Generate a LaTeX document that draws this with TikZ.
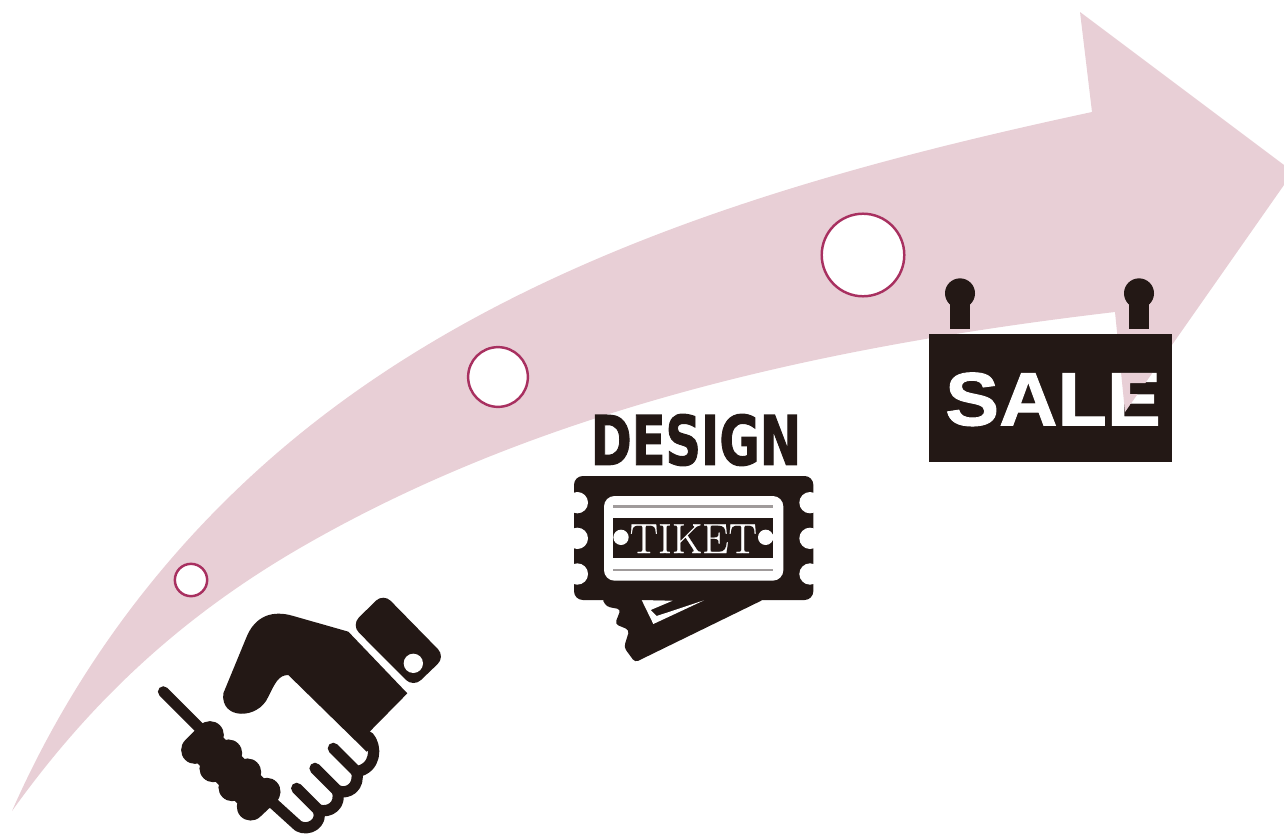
\documentclass[tikz,border=0pt]{standalone}
\usepackage{fontspec}
\usepackage{graphicx}
\usepackage{xcolor}
\definecolor{arrowpink}{RGB}{232,207,214}
\definecolor{ringred}{RGB}{168,48,96}
\definecolor{iconblack}{RGB}{35,24,21}
\definecolor{rulegray}{RGB}{160,155,155}
\newfontfamily\heavyfont[FakeBold=1.6]{DejaVu Sans Bold}
\newfontfamily\salefont[FakeBold=1.2]{Liberation Sans Bold}
\newfontfamily\tiketfont[FakeBold=0.5]{Latin Modern Roman}
\tikzset{
  ring/.style={circle, draw=ringred, fill=white, line width=1.4pt, inner sep=0pt},
  icon/.style={iconblack, line cap=round, line join=round},
  fingerline/.style={icon, line width=6.4pt}
}
\def\arrowpath{(12,811) .. controls (82,652) and (189,519) .. (320,418)
  .. controls (539,249) and (822,170) .. (1092,112) -- (1080,12) -- (1284,165) -- (1284,185) -- (1125,412) -- (1115,312)
  .. controls (834,345) and (545,406) .. (300,548)
  .. controls (188,613) and (95,695) .. (12,811) -- cycle}

\begin{document}
\begin{tikzpicture}[x=0.02cm,y=-0.02cm]
  \useasboundingbox (0,0) rectangle (1284,835);

  % fleche
  \fill[arrowpink] \arrowpath;

  % repères
  \node[ring,minimum size=18.4pt] (ringa) at (191,580) {};
  \node[ring,minimum size=34pt] (ringb) at (498,377) {};
  \node[ring,minimum size=47pt] (ringc) at (863,255) {};

  % poignée de main
  \begin{scope}[shift={(140,560)},scale=1/3]
    \fill[icon,rounded corners=6pt] (730,100) -- (916,290) -- (820,382) -- (634,195) -- cycle;
    \fill[white] (820,310) circle (29);
    \fill[icon] (250,400) -- (318,235) .. controls (345,165) and (400,150) .. (460,168)
      -- (625,215) -- (802,400) -- (682,522) -- (700,560) -- (680,575) -- (445,345) .. controls (415,345) and (405,370) .. (385,410)
      .. controls (355,480) and (240,480) .. (250,400) -- cycle;
    \draw[icon,line width=6.2pt] (70,395) -- (185,510);
    \draw[iconblack,line width=20.8pt] (187,547) -- (356,717);
    \foreach \xa/\ya/\xb/\yb in {210/525/165/570,265/580/220/625,322/637/277/682,380/695/332/740}
      \draw[icon,line width=15.8pt] (\xa,\ya) -- (\xb,\yb);
    \draw[fingerline] (685,530) .. controls (712,560) and (708,625) .. (650,635)
      .. controls (660,680) and (625,705) .. (592,692)
      .. controls (605,735) and (570,760) .. (535,750)
      .. controls (550,790) and (505,815) .. (475,798) -- (400,730);
    \draw[fingerline] (580,565) -- (650,635);
    \draw[fingerline] (525,625) -- (592,692);
    \draw[fingerline] (470,685) -- (535,750);
  \end{scope}

  % billet
  \begin{scope}[shift={(560,400)},scale=1/3]
    \node[text=iconblack,inner sep=0pt] (designlabel) at (408,120)
      {\scalebox{0.72}[1]{\fontsize{39}{39}\heavyfont DESIGN}};
    \fill[icon,rounded corners=2pt] (125,595) -- (140,620) -- (182,628) -- (165,672) -- (208,690) -- (192,742) -- (225,787) -- (612,598) -- cycle;
    \fill[white] (245,600) -- (280,672) -- (432,601) -- (290,648) -- (272,630) -- (338,602) -- cycle;
    \fill[icon,rounded corners=5pt] (42,228) rectangle (760,600);
    \foreach \yn in {308,415,522}{
      \fill[white] (52,\yn) circle (32);
      \fill[white] (750,\yn) circle (32);
    }
    \fill[white,rounded corners=6pt] (132,288) rectangle (670,542);
    \draw[rulegray,line width=1.6pt] (160,320) -- (640,320);
    \draw[rulegray,line width=1.6pt] (160,510) -- (640,510);
    \fill[iconblack] (160,353) rectangle (640,475);
    \fill[white] (183,412) circle (23);
    \fill[white] (617,412) circle (23);
    \node[text=white,inner sep=0pt] (tiketlabel) at (400,416) {\fontsize{24}{24}\tiketfont TIKET};
  \end{scope}

  % panneau
  \begin{scope}[shift={(915,270)},scale=1/3]
    \foreach \xk in {135,672}{
      \fill[icon] (\xk,70) circle (45);
      \fill[iconblack] (\xk-29,90) rectangle (\xk+29,178);
    }
    \fill[iconblack] (42,192) rectangle (770,575);
    \node[text=white,inner sep=0pt] (salelabel) at (414,388)
      {\scalebox{1.07}[1]{\fontsize{43}{43}\salefont SALE}};
  \end{scope}
  % le E laisse voir la flèche
  \begin{scope}
    \clip (1115,373) -- (1160,373) -- (1160,383) -- (1130,383) -- (1130,394) -- (1156,394) -- (1156,404) -- (1130,404) -- (1130,424) -- (1115,424) -- cycle;
    \fill[arrowpink] \arrowpath;
  \end{scope}
\end{tikzpicture}
\end{document}
